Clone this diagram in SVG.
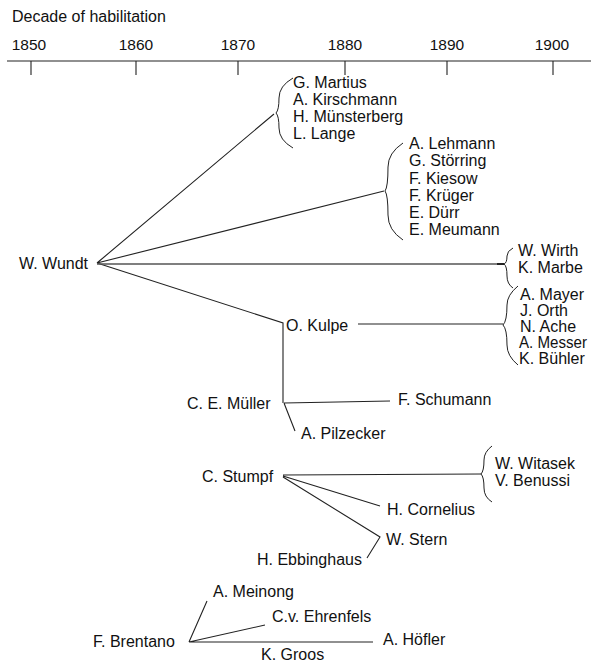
<svg xmlns="http://www.w3.org/2000/svg" width="591" height="663" viewBox="0 0 591 663">
<style>
text{font-family:"Liberation Sans",Arial,sans-serif;font-size:16px;fill:#111}
.yr{text-anchor:middle;font-size:15.5px}
.ln{stroke:#222;stroke-width:1.1;fill:none}
.br{stroke:#222;stroke-width:1;fill:none}
</style>
<rect width="591" height="663" fill="#fff"/>
<g id="axis">
<text x="12" y="22">Decade of habilitation</text>
<text class="yr" x="29" y="50">1850</text>
<text class="yr" x="136" y="50">1860</text>
<text class="yr" x="238" y="50">1870</text>
<text class="yr" x="345" y="50">1880</text>
<text class="yr" x="447" y="50">1890</text>
<text class="yr" x="552" y="50">1900</text>
<path class="ln" d="M7 61H591M31 61V75M136 61V75M238 61V75M345 61V75M447 61V75M553 61V75"/>
</g>
<g id="connectors">
<path class="ln" d="M97 263L274 114M97 263L384 191M97 263L283 323V403M358 324H503M284 403L390 401M284 403L295 431"/>
<path d="M97 264H498" stroke="#555" stroke-width="1.4" fill="none"/>
<path d="M497 264H504" stroke="#222" stroke-width="2" fill="none"/>
<path class="ln" d="M283 475L481 474M283 476L380 506M283 477L380 537L367 558"/>
<path class="ln" d="M189 642L207 601M189 642L265 625M189 642H373"/>
<path class="br" d="M293 78Q279 86 279 98Q279 110 276 113Q279 116 279 128Q279 140 293 148"/>
<path class="br" d="M403 143Q388 153 388 167Q388 187 385 191Q388 195 388 215Q388 230 403 240"/>
<path class="br" d="M513 248Q507 251 507 256Q507 263 504 264Q507 266 507 276Q507 284 513 288"/>
<path class="br" d="M518 286Q507 295 507 305Q507 321 503 325Q507 329 507 345Q507 356 518 365"/>
<path class="br" d="M492 446Q484 452 484 460Q484 471 481 474Q484 477 484 488Q484 497 492 502"/>
</g>
<g id="wundt"><text x="19" y="269">W. Wundt</text></g>
<g id="martius-group">
<text x="293" y="88">G. Martius</text>
<text x="293" y="105">A. Kirschmann</text>
<text x="293" y="122">H. Münsterberg</text>
<text x="293" y="139">L. Lange</text>
</g>
<g id="lehmann-group">
<text x="409" y="149">A. Lehmann</text>
<text x="409" y="166">G. Störring</text>
<text x="409" y="184">F. Kiesow</text>
<text x="409" y="201">F. Krüger</text>
<text x="409" y="218">E. Dürr</text>
<text x="409" y="235">E. Meumann</text>
</g>
<g id="wirth-group">
<text x="518" y="256">W. Wirth</text>
<text x="518" y="273">K. Marbe</text>
</g>
<g id="kulpe"><text x="286" y="331">O. Kulpe</text></g>
<g id="mayer-group">
<text x="520" y="300">A. Mayer</text>
<text x="520" y="316">J. Orth</text>
<text x="520" y="332">N. Ache</text>
<text x="519" y="348" textLength="68" lengthAdjust="spacingAndGlyphs">A. Messer</text>
<text x="519" y="364">K. Bühler</text>
</g>
<g id="mueller"><text x="187" y="409">C. E. Müller</text></g>
<g id="schumann"><text x="398" y="405">F. Schumann</text></g>
<g id="pilzecker"><text x="301" y="439">A. Pilzecker</text></g>
<g id="stumpf"><text x="202" y="482">C. Stumpf</text></g>
<g id="witasek-group">
<text x="495" y="469">W. Witasek</text>
<text x="495" y="486">V. Benussi</text>
</g>
<g id="cornelius"><text x="387" y="515">H. Cornelius</text></g>
<g id="stern"><text x="386" y="545">W. Stern</text></g>
<g id="ebbinghaus"><text x="257" y="565">H. Ebbinghaus</text></g>
<g id="brentano"><text x="93" y="647">F. Brentano</text></g>
<g id="meinong"><text x="213" y="597">A. Meinong</text></g>
<g id="ehrenfels"><text x="272" y="622">C.v. Ehrenfels</text></g>
<g id="hoefler"><text x="383" y="645">A. Höfler</text></g>
<g id="groos"><text x="261" y="660">K. Groos</text></g>
</svg>
